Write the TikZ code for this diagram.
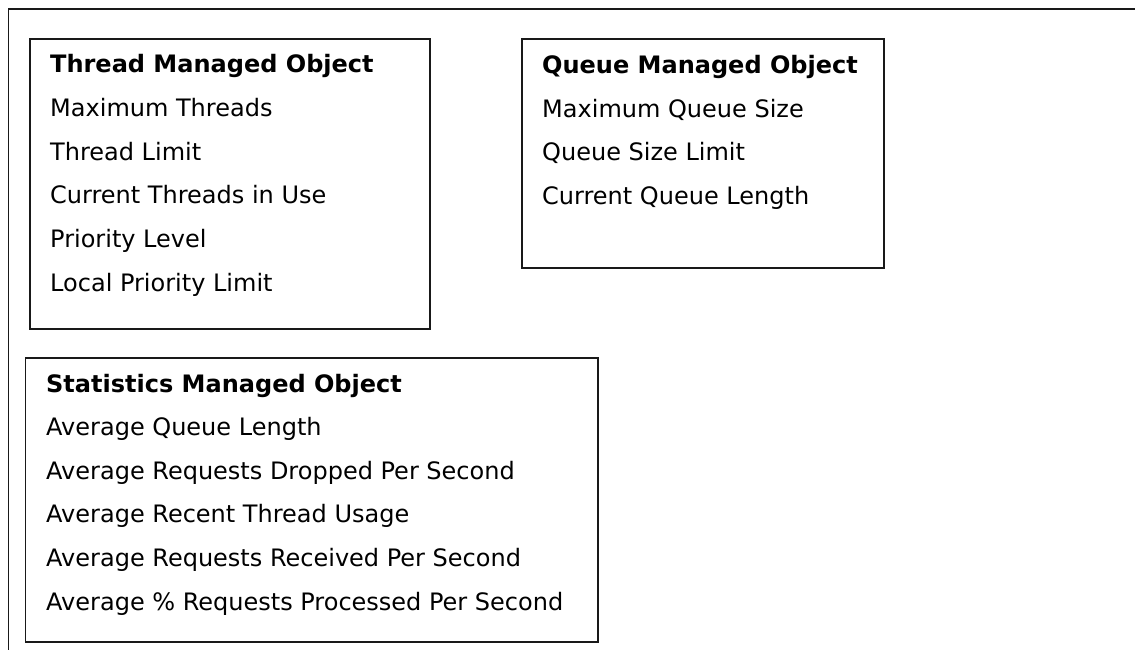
\documentclass[tikz,border=0pt]{standalone}
\usepackage{fontspec}
\setmainfont{DejaVu Sans}
\begin{document}
\begin{tikzpicture}[x=1pt,y=-1pt,
  frame/.style={line width=1.8pt, draw=black!90},
  objbox/.style={draw=black!90, line width=1.8pt, inner sep=0pt, anchor=north west},
  itemtxt/.style={anchor=base west, inner sep=0pt, font=\fontsize{24}{28}\selectfont},
  titletxt/.style={itemtxt, font=\fontsize{24}{28}\selectfont\bfseries}]
\useasboundingbox (0,0) rectangle (1135,650);
\coordinate (fbl) at (8.5,650);
\coordinate (ftl) at (8.5,9);
\coordinate (ftr) at (1135,9);
\draw[frame] (fbl) -- (ftl) -- (ftr);

% Thread Managed Object
\node[objbox, minimum width=400pt, minimum height=290pt] (thread) at (29,38.3) {};
\node[titletxt] (t0) at (50,73) {Thread Managed Object};
\node[itemtxt] (t1) at (50,116.6) {Maximum Threads};
\node[itemtxt] (t2) at (50,160.2) {Thread Limit};
\node[itemtxt] (t3) at (50,203.8) {Current Threads in Use};
\node[itemtxt] (t4) at (50,247.4) {Priority Level};
\node[itemtxt] (t5) at (50,291) {Local Priority Limit};

% Queue Managed Object
\node[objbox, minimum width=362pt, minimum height=229pt] (queue) at (521,38.3) {};
\node[titletxt] (q0) at (542,73.5) {Queue Managed Object};
\node[itemtxt] (q1) at (542,117.1) {Maximum Queue Size};
\node[itemtxt] (q2) at (542,160.7) {Queue Size Limit};
\node[itemtxt] (q3) at (542,204.3) {Current Queue Length};

% Statistics Managed Object
\node[objbox, minimum width=572.5pt, minimum height=284.3pt] (stats) at (24.5,356.7) {};
\node[titletxt] (s0) at (46,392) {Statistics Managed Object};
\node[itemtxt] (s1) at (46,435.6) {Average Queue Length};
\node[itemtxt] (s2) at (46,479.2) {Average Requests Dropped Per Second};
\node[itemtxt] (s3) at (46,522.8) {Average Recent Thread Usage};
\node[itemtxt] (s4) at (46,566.4) {Average Requests Received Per Second};
\node[itemtxt] (s5) at (46,610) {Average \% Requests Processed Per Second};
\end{tikzpicture}
\end{document}
